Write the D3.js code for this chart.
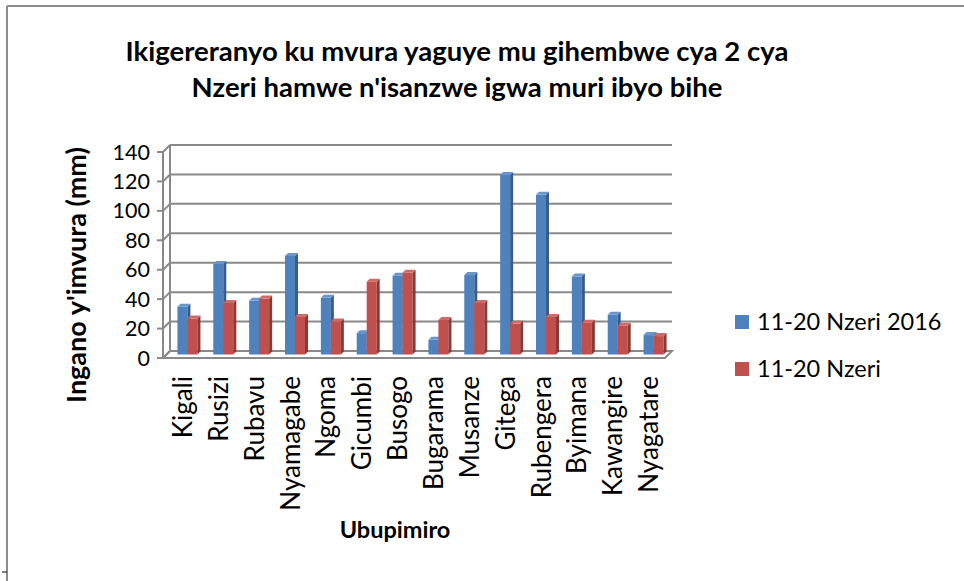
<!DOCTYPE html>
<meta charset="utf-8">
<style>
body { margin: 0; background: #fff; }
text { font-family: Lato, "Open Sans", sans-serif; fill: #000; }
.title { font-weight: bold; font-size: 27.5px; }
.y-title { font-weight: bold; font-size: 27px; }
.x-title { font-weight: bold; font-size: 23.5px; }
.tick-label { font-size: 21.5px; }
.cat-label { font-size: 26px; }
.legend text { font-size: 23.5px; }
.grid line { stroke: #898989; stroke-width: 2; }
</style>
<svg width="964" height="581"></svg>
<script src="https://d3js.org/d3.v7.min.js"></script>
<script>
var stations = ["Kigali", "Rusizi", "Rubavu", "Nyamagabe", "Ngoma", "Gicumbi", "Busogo",
                "Bugarama", "Musanze", "Gitega", "Rubengera", "Byimana", "Kawangire", "Nyagatare"];
var series = ["11-20 Nzeri 2016", "11-20 Nzeri"];
var rain2016 = [32.5, 61.5, 36.5, 67, 38.5, 14.5, 53.5, 10, 54, 122, 108.5, 53, 27, 13.2];
var rainNormal = [24.5, 35, 38, 25.5, 22.5, 49.5, 55.5, 23.5, 35, 21, 25.5, 21.5, 19.5, 12.5];
var yTicks = [0, 20, 40, 60, 80, 100, 120, 140];
var colors = ["#4f81bd", "#c0504d"];
var sideColors = ["#385d8a", "#8c3836"];
var topColors = ["#6a95cc", "#d06a67"];

var svg = d3.select("svg");

// frame (only top and left edges fall inside the picture)
svg.append("line").attr("x1", 7).attr("y1", 6).attr("x2", 964).attr("y2", 6)
    .attr("stroke", "#8c8c8c").attr("stroke-width", 2);
svg.append("line").attr("x1", 7).attr("y1", 6).attr("x2", 7).attr("y2", 581)
    .attr("stroke", "#8c8c8c").attr("stroke-width", 2);
svg.append("line").attr("x1", 2).attr("y1", 572).attr("x2", 7).attr("y2", 572)
    .attr("stroke", "#000").attr("stroke-width", 1);

var x = d3.scaleBand().domain(stations).range([163, 665]);
var sub = d3.scaleBand().domain(series).range([-7, 13]);
var y = d3.scaleLinear().domain([0, 140]).range([358, 152]);

var wall = 7;   // depth of the back wall
var mid = 3.5;  // bars sit half way in
var bd = 3;     // bar depth

// floor
svg.append("path")
    .attr("d", "M" + x.range()[0] + "," + y(0) + "L" + x.range()[1] + "," + y(0) +
      "L" + (x.range()[1] + wall) + "," + (y(0) - wall) + "L" + (x.range()[0] + wall) + "," + (y(0) - wall) + "Z")
    .attr("fill", "#fff").attr("stroke", "#898989").attr("stroke-width", 2);

// back wall gridlines + left wall
var grid = svg.append("g").attr("class", "grid");
grid.selectAll(".g").data(yTicks.slice(1)).enter().append("line")
    .attr("x1", x.range()[0] + wall).attr("x2", x.range()[1] + wall)
    .attr("y1", function(d) { return y(d) - wall; }).attr("y2", function(d) { return y(d) - wall; });
grid.selectAll(".d").data(yTicks).enter().append("line")
    .attr("x1", x.range()[0]).attr("x2", x.range()[0] + wall)
    .attr("y1", function(d) { return y(d); }).attr("y2", function(d) { return y(d) - wall; });
grid.selectAll(".t").data(yTicks).enter().append("line")
    .attr("x1", x.range()[0] - 6).attr("x2", x.range()[0])
    .attr("y1", function(d) { return y(d); }).attr("y2", function(d) { return y(d); });
grid.append("line").attr("x1", x.range()[0]).attr("x2", x.range()[0])
    .attr("y1", y(0)).attr("y2", y(140));
grid.append("line").attr("x1", x.range()[0] + wall).attr("x2", x.range()[0] + wall)
    .attr("y1", y(0) - wall).attr("y2", y(140) - wall);

svg.append("g").selectAll("text").data(yTicks).enter().append("text")
    .attr("class", "tick-label")
    .attr("x", 150).attr("y", function(d) { return y(d); })
    .attr("dy", "0.35em").attr("text-anchor", "end")
    .text(function(d) { return d; });

// bars
var rows = [];
stations.forEach(function(s, i) {
  rows.push({ st: s, k: 0, v: rain2016[i] });
  rows.push({ st: s, k: 1, v: rainNormal[i] });
});

var bars = svg.append("g").selectAll("g").data(rows).enter().append("g");
function bx(d) { return x(d.st) + x.bandwidth() / 2 + sub(series[d.k]) + mid; }
function by(d) { return y(d.v) - mid; }
var bw = sub.bandwidth();
var base = y(0) - mid;

bars.append("rect")
    .attr("x", bx).attr("y", by)
    .attr("width", bw).attr("height", function(d) { return base - by(d); })
    .attr("fill", function(d) { return colors[d.k]; });
bars.append("path")
    .attr("d", function(d) {
      var x0 = bx(d) + bw, y0 = by(d);
      return "M" + x0 + "," + y0 + "l" + bd + "," + (-bd) + "L" + (x0 + bd) + "," + (base - bd) +
        "L" + x0 + "," + base + "Z";
    })
    .attr("fill", function(d) { return sideColors[d.k]; });
bars.append("path")
    .attr("d", function(d) {
      var x0 = bx(d), y0 = by(d);
      return "M" + x0 + "," + y0 + "l" + bd + "," + (-bd) + "l" + bw + ",0l" + (-bd) + "," + bd + "Z";
    })
    .attr("fill", function(d) { return topColors[d.k]; });

// category labels
svg.append("g").selectAll("text").data(stations).enter().append("text")
    .attr("class", "cat-label")
    .attr("transform", function(d) { return "translate(" + (x(d) + x.bandwidth() / 2 + 2) + ",376) rotate(-90)"; })
    .attr("dy", "0.35em").attr("text-anchor", "end")
    .text(function(d) { return d; });

// titles
var title = svg.append("text").attr("class", "title").attr("text-anchor", "middle");
title.append("tspan").attr("x", 457).attr("y", 61).text("Ikigereranyo ku mvura yaguye mu gihembwe cya 2 cya");
title.append("tspan").attr("x", 457).attr("y", 97).text("Nzeri hamwe n'isanzwe igwa muri ibyo bihe");

svg.append("text").attr("class", "y-title")
    .attr("transform", "translate(86,275) rotate(-90)")
    .attr("text-anchor", "middle")
    .text("Ingano y'imvura (mm)");

svg.append("text").attr("class", "x-title")
    .attr("x", 395).attr("y", 538).attr("text-anchor", "middle")
    .text("Ubupimiro");

// legend
var legend = svg.append("g").attr("class", "legend").selectAll("g").data(series).enter().append("g")
    .attr("transform", function(d, i) { return "translate(735," + (315 + i * 47) + ")"; });
legend.append("rect").attr("width", 14).attr("height", 14)
    .attr("fill", function(d, i) { return colors[i]; });
legend.append("text").attr("x", 22).attr("y", 7).attr("dy", "0.35em").text(function(d) { return d; });
</script>
